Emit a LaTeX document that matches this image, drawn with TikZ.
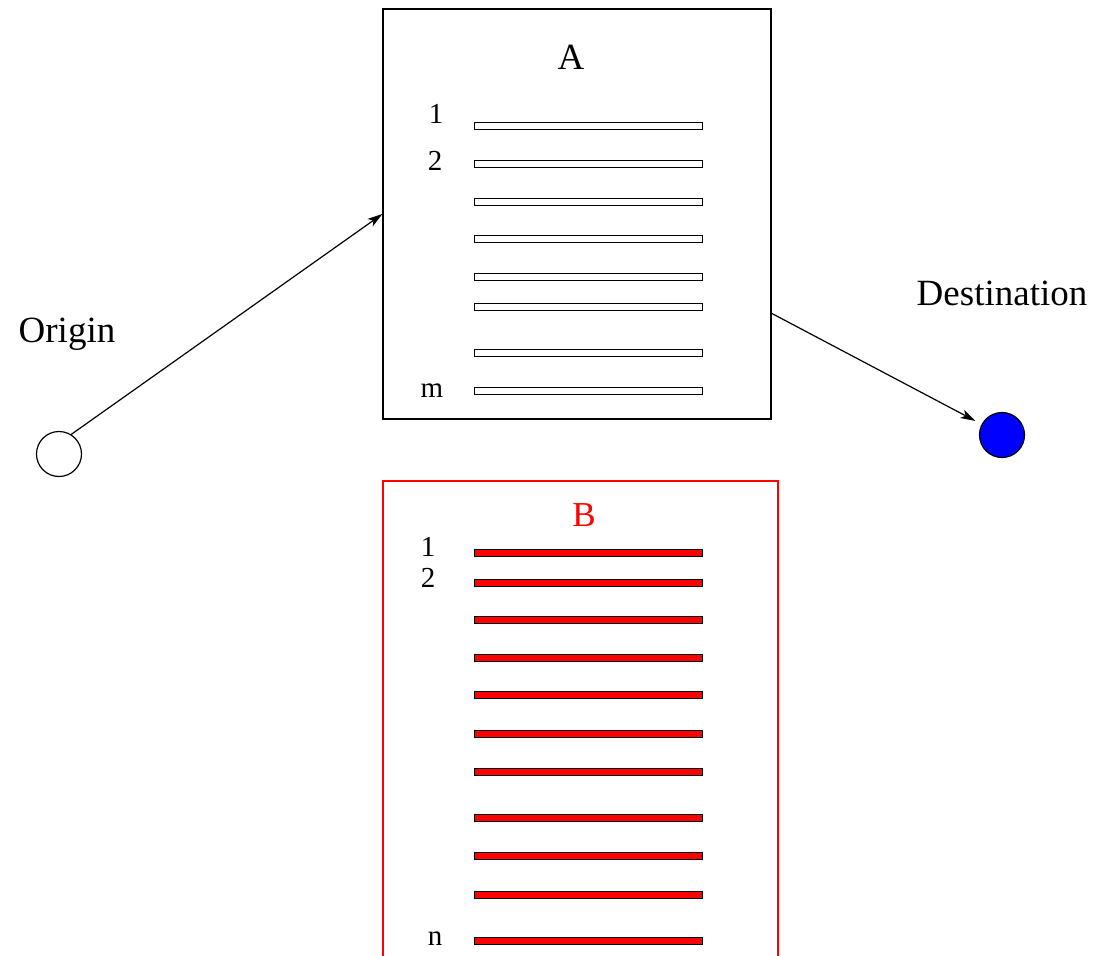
\documentclass[tikz,border=0pt]{standalone}
\usepackage{fontspec}
\setmainfont{Liberation Serif}
\usetikzlibrary{arrows.meta}
\begin{document}
\begin{tikzpicture}[x=1pt,y=-1pt,
  thin line/.style={line width=1.2pt},
  big label/.style={font=\fontsize{37}{37}\selectfont,inner sep=0pt,anchor=base},
  small label/.style={font=\fontsize{29}{29}\selectfont,inner sep=0pt,anchor=base},
  abar/.style={draw,line width=1pt,fill=white,minimum width=228pt,minimum height=7pt,inner sep=0pt},
  bbar/.style={draw,line width=1pt,fill=red,minimum width=228pt,minimum height=7pt,inner sep=0pt},
  arrowline/.style={line width=1.2pt,-{Stealth[length=15pt,width=9pt,inset=4pt]}}]
\useasboundingbox (0,0) rectangle (1096,956);

% box A with its bars
\node[draw,thin line,minimum width=388pt,minimum height=410pt,inner sep=0pt] (boxA) at (577,214) {};
\node[big label] (labA) at (571,69) {A};
\foreach \y [count=\i] in {126,164,202,239,277,307,353,391}
  \node[abar] (a\i) at (588,\y) {};
\node[small label] (a1t) at (436,123) {1};
\node[small label] (a2t) at (435,170) {2};
\node[small label] (amt) at (432,397) {m};

% box B, open at the bottom
\draw[red,thin line] (383,957) -- (383,481) -- (778,481) -- (778,957);
\node[big label,red,font=\fontsize{35}{35}\selectfont] (labB) at (584,526) {B};
\foreach \y [count=\i] in {553,583,620,658,695,734,772,818,856,895,941}
  \node[bbar] (b\i) at (588,\y) {};
\node[small label] (b1t) at (428,556) {1};
\node[small label] (b2t) at (428,587) {2};
\node[small label] (bnt) at (435,945) {n};

% end points
\node[draw,thin line,circle,minimum size=45pt,inner sep=0pt] (orig) at (59,454) {};
\node[draw,thin line,circle,fill=blue,minimum size=45pt,inner sep=0pt] (dest) at (1002,435) {};
\node[big label] (origt) at (67,342) {Origin};
\node[big label] (destt) at (1002,305) {Destination};

% connectors
\coordinate (aout) at (771,313);
\draw[arrowline] (orig.58) -- (boxA.west);
\draw[arrowline,shorten >=7pt] (aout) -- (dest);
\end{tikzpicture}
\end{document}
